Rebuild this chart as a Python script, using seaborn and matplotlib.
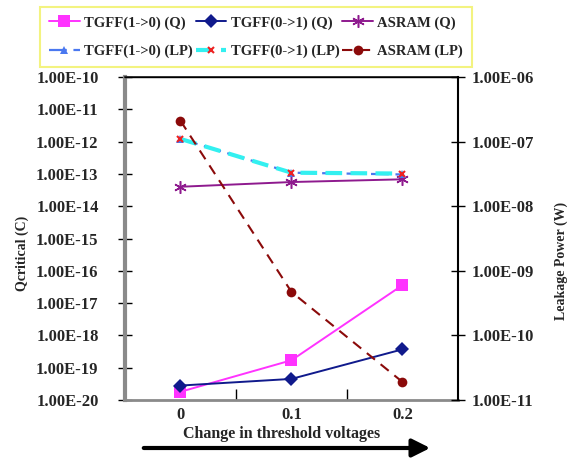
import numpy as np
import pandas as pd
import matplotlib
matplotlib.use('Agg')
import matplotlib.pyplot as plt
import seaborn as sns
from matplotlib.ticker import FixedLocator, NullLocator, FuncFormatter

# Datos
x_labels = ['0', '0.1', '0.2']
x_pos = [0, 1, 2]

# Qcritical (C), eje izquierdo
q_tgff10 = [1.8e-20, 1.7e-19, 3.6e-17]
q_tgff01 = [2.8e-20, 4.5e-20, 3.7e-19]
q_asram = [4.0e-14, 5.6e-14, 6.8e-14]

# Leakage power (W), eje derecho
lp_tgff10 = [1.1e-7, 3.3e-8, 3.1e-8]
lp_tgff01 = [1.1e-7, 3.3e-8, 3.2e-8]
lp_asram = [2.1e-7, 4.7e-10, 1.9e-11]

sns.set_theme(style='white')
plt.rcParams['font.family'] = ['Liberation Serif', 'DejaVu Serif']
plt.rcParams['font.weight'] = 'bold'
plt.rcParams['axes.labelweight'] = 'bold'

fig = plt.figure(figsize=(5.8, 4.58), dpi=100)
ax = fig.add_axes([125 / 580, 1 - 400 / 458, 333 / 580, 323 / 458])
ax2 = ax.twinx()
ax.set_yscale('log')
ax2.set_yscale('log')

# Series Q
sns.lineplot(x=x_pos, y=q_tgff10, ax=ax, color='#ff33ff', marker='s', markersize=9,
             markeredgewidth=0, lw=1.4, label='TGFF(1->0) (Q)')
sns.lineplot(x=x_pos, y=q_tgff01, ax=ax, color='#101a8c', marker='D', markersize=7,
             markeredgewidth=0, lw=1.4, label='TGFF(0->1) (Q)')
sns.lineplot(x=x_pos, y=q_asram, ax=ax, color='#8e1a8e', marker=(6, 2, 0), markersize=9,
             markeredgewidth=1.1, markeredgecolor='#8e1a8e', lw=1.4, label='ASRAM (Q)')

# Series LP
sns.lineplot(x=x_pos, y=lp_tgff10, ax=ax2, color='#4a78f0', marker='^', markersize=6,
             markeredgewidth=0, lw=1.6, dashes=(8, 3), label='TGFF(1->0) (LP)')
sns.lineplot(x=x_pos, y=lp_tgff01, ax=ax2, color='#33f0f0', marker='x', markersize=5,
             markeredgecolor='#ee2222', markeredgewidth=1.5, lw=3, dashes=(4, 2),
             label='TGFF(0->1) (LP)')
sns.lineplot(x=x_pos, y=lp_asram, ax=ax2, color='#8b0a0a', marker='o', markersize=7,
             markeredgewidth=0, lw=1.5, dashes=(5, 3.5), label='ASRAM (LP)')

for a in (ax, ax2):
    if a.get_legend() is not None:
        a.get_legend().remove()

# Ejes
fmt = FuncFormatter(lambda v, p: '{:.2E}'.format(v))
ax.set_ylim(1e-20, 1e-10)
ax.yaxis.set_major_locator(FixedLocator([10.0 ** e for e in range(-20, -9)]))
ax.yaxis.set_minor_locator(NullLocator())
ax.yaxis.set_major_formatter(fmt)
ax2.set_ylim(1e-11, 1e-6)
ax2.yaxis.set_major_locator(FixedLocator([10.0 ** e for e in range(-11, -5)]))
ax2.yaxis.set_minor_locator(NullLocator())
ax2.yaxis.set_major_formatter(fmt)

ax.set_xlim(-0.5, 2.5)
ax.set_xticks(x_pos)
ax.set_xticklabels(x_labels)
ax.set_xticks([0.5, 1.5], minor=True)
ax.tick_params(axis='x', which='major', length=0, pad=5, labelsize=12)
ax.tick_params(axis='x', which='minor', length=8, width=1, direction='in', color='black', bottom=True)
ax.tick_params(axis='y', which='major', length=10, width=1, direction='inout', color='black',
               left=True, labelsize=12, pad=14)
ax2.tick_params(axis='y', which='major', length=10, width=1, direction='inout', color='black',
                right=True, labelsize=12, pad=5)

ax.spines['left'].set_color('#8a8a8a')
ax.spines['left'].set_linewidth(3)
ax.spines['bottom'].set_color('#8a8a8a')
ax.spines['bottom'].set_linewidth(2)
ax2.spines['left'].set_visible(False)
ax2.spines['bottom'].set_visible(False)
ax2.spines['top'].set_color('black')
ax2.spines['top'].set_linewidth(1)
ax2.spines['right'].set_color('black')
ax2.spines['right'].set_linewidth(1.5)
ax.grid(False)
ax2.grid(False)

ax.set_xlabel('Change in threshold voltages', fontsize=11.5, fontweight='bold')
ax.set_ylabel('Qcritical (C)', fontsize=10, fontweight='bold')
ax2.set_ylabel('Leakage Power (W)', fontsize=10, fontweight='bold')
ax.yaxis.set_label_coords(-0.288, 0.455)
ax2.yaxis.set_label_coords(1.291, 0.43)
ax.xaxis.set_label_coords(0.47, -0.08)

# Leyenda
h1, l1 = ax.get_legend_handles_labels()
h2, l2 = ax2.get_legend_handles_labels()
hh = h1 + h2
ll = l1 + l2
orden = [0, 3, 1, 4, 2, 5]
leg = fig.legend([hh[i] for i in orden], [ll[i] for i in orden], ncol=3,
                 loc='center', bbox_to_anchor=(256 / 580, 1 - 37 / 458),
                 fancybox=False, frameon=True, edgecolor='#f0f060',
                 handlelength=2.1, columnspacing=0.2, handletextpad=0.3,
                 labelspacing=1.0, borderpad=0.6, prop={'weight': 'bold', 'size': 10.5})
leg.get_frame().set_linewidth(1.5)

# Flecha
fig.add_artist(matplotlib.patches.FancyArrowPatch(
    (141 / 580, 1 - 448 / 458), (433 / 580, 1 - 448 / 458), transform=fig.transFigure,
    arrowstyle='-|>,head_length=0.9,head_width=0.45', mutation_scale=12,
    color='black', lw=3))

fig.savefig('out.png', dpi=100)
